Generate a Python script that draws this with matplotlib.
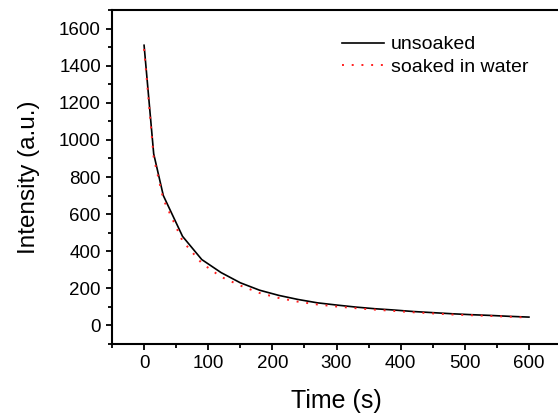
import matplotlib
matplotlib.use("Agg")
import matplotlib.pyplot as plt
from matplotlib.ticker import MultipleLocator

time_s = [0, 15, 30, 60, 90, 120, 150, 180, 210, 240, 270, 300, 330, 360,
          390, 420, 450, 480, 510, 540, 570, 600]
unsoaked = [1510, 925, 700, 480, 355, 285, 230, 190, 162, 140, 122, 110, 99,
            90, 83, 75, 69, 63, 58, 54, 49, 45]
soaked = [1490, 905, 680, 455, 335, 262, 215, 175, 148, 128, 113, 102, 93,
          85, 78, 71, 65, 59, 55, 51, 47, 42]

plt.rcParams['font.family'] = ['Liberation Sans', 'DejaVu Sans']

fig = plt.figure(figsize=(5.58, 4.18), dpi=100)
W, H = 558, 418
left, right, top, bottom = 112, 561, 10, 344
ax = fig.add_axes([left / W, (H - bottom) / H, (right - left) / W, (bottom - top) / H])

ax.plot(time_s, unsoaked, color='black', lw=1.2, label='unsoaked')
ax.plot(time_s, soaked, color='#ff2020', lw=1.4, dashes=(1, 4), label='soaked in water')

ax.set_xlim(-50, 650)
ax.set_ylim(-100, 1700)
ax.xaxis.set_minor_locator(MultipleLocator(50))
ax.yaxis.set_minor_locator(MultipleLocator(100))
ax.set_xticks(range(0, 601, 100))
ax.set_yticks(range(0, 1601, 200))

for s in ax.spines.values():
    s.set_linewidth(1.5)
ax.tick_params(which='major', direction='out', length=4, width=1.3, labelsize=13.5, pad=4)
ax.tick_params(which='minor', direction='out', length=3, width=1.3)

ax.set_xlabel('Time (s)', fontsize=18, labelpad=12)
ax.set_ylabel('Intensity (a.u.)', fontsize=17.5, labelpad=14)

leg = ax.legend(loc='upper left', bbox_to_anchor=(0.494, 0.946), frameon=False,
                fontsize=14, handlelength=2.2, handletextpad=0.35, labelspacing=0.25,
                borderaxespad=0)

fig.savefig('out.png', dpi=100)
